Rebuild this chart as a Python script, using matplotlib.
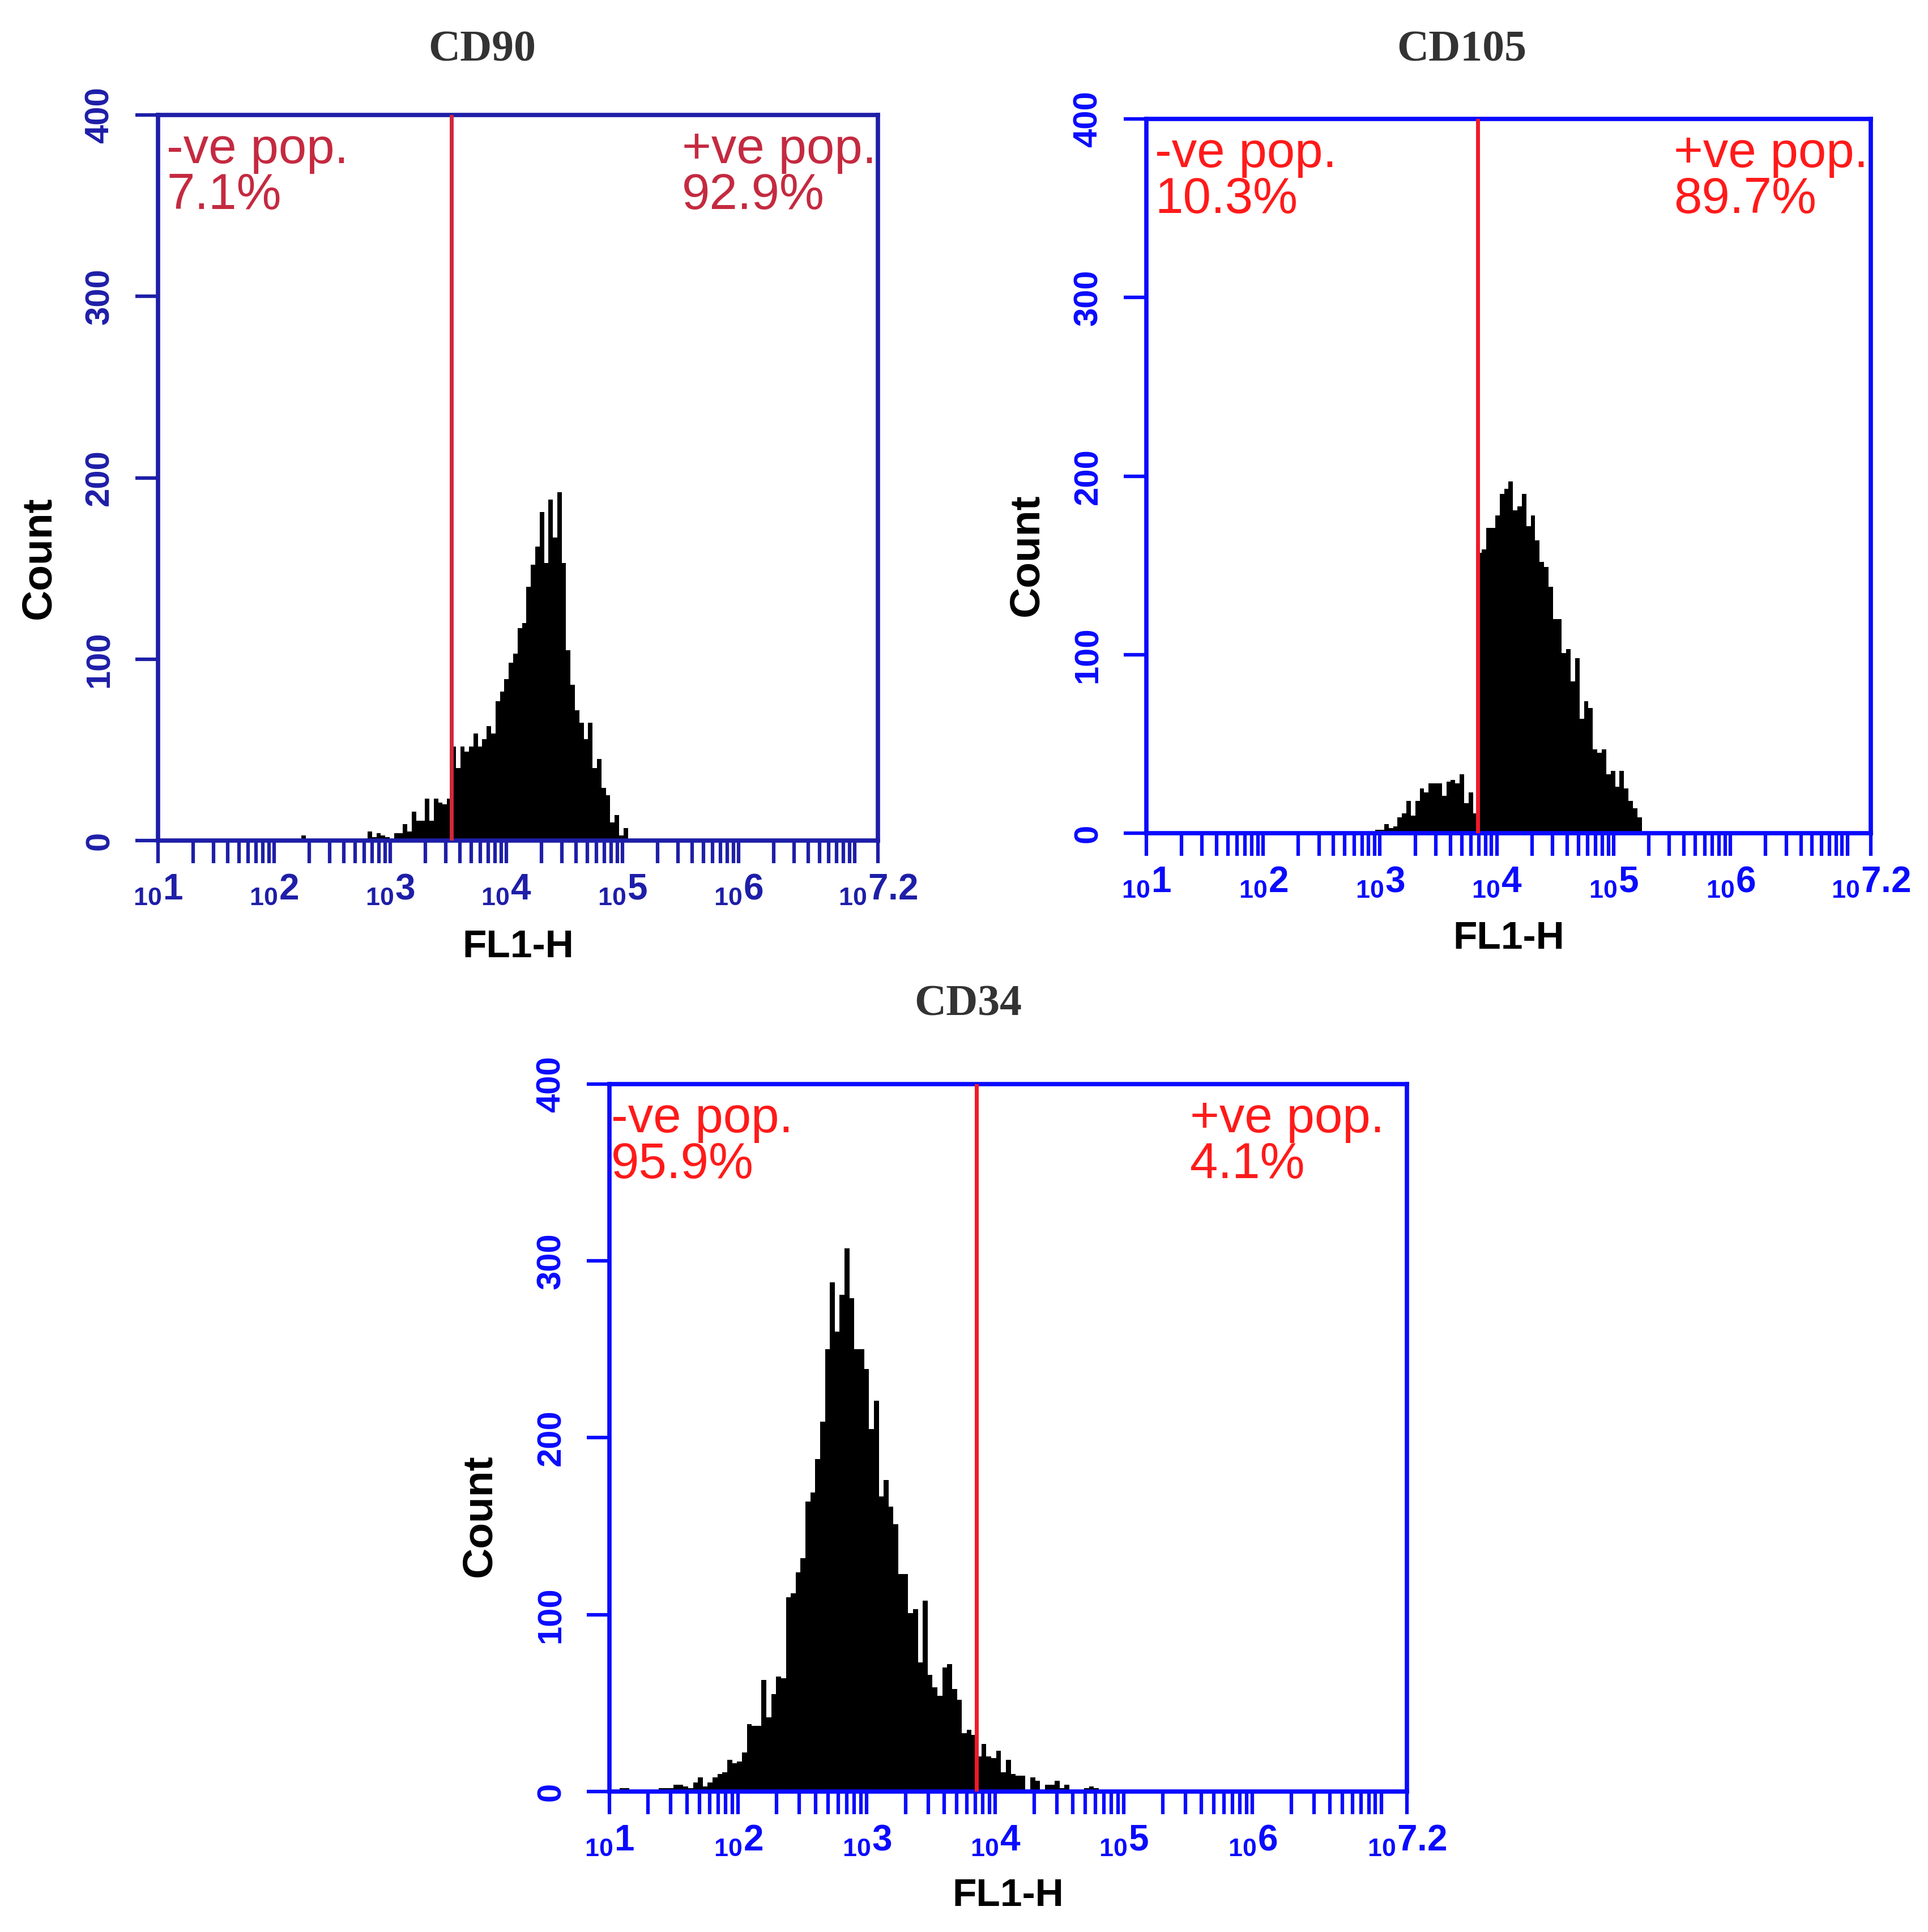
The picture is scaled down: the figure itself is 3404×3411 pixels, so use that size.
import numpy as np
import matplotlib
matplotlib.use('Agg')
import matplotlib.pyplot as plt
from matplotlib.ticker import FixedLocator, FuncFormatter, NullFormatter

plt.rcParams['font.family'] = ['Liberation Sans', 'DejaVu Sans']
plt.rcParams['mathtext.fontset'] = 'custom'
plt.rcParams['mathtext.rm'] = 'Liberation Sans:bold'
plt.rcParams['mathtext.default'] = 'rm'

# histogram channels (log10 of FL1-H), fixed channel width
bin_width = 0.038

cd90_start = 2.197
cd90_counts = [0, 3, 0, 0, 0, 0, 0, 0, 0, 0, 0, 0, 0, 0, 0, 0,
               5, 2, 4, 3, 2, 1, 4, 4, 9, 5, 16, 11, 11, 23, 11, 23, 21, 20, 23, 52,
               40, 52, 49, 52, 59, 52, 56, 63, 59, 77, 82, 89, 98, 103, 117, 120, 140, 152, 162, 181,
               153, 188, 167, 192, 153, 105, 86, 72, 65, 56, 65, 40, 45, 29, 25, 10, 14, 3, 7]
cd90_gate = 3.525

cd105_start = 2.96
cd105_counts = [2, 2, 5, 3, 4, 9, 11, 18, 10, 18, 25, 23, 28, 28, 28, 21, 29, 30, 28, 33,
                17, 23, 11, 157, 159, 171, 171, 178, 190, 193, 197, 181, 183, 190, 172, 178, 164, 152, 149, 138,
                120, 120, 101, 103, 85, 98, 64, 74, 70, 47, 45, 47, 33, 35, 26, 35, 25, 18, 14, 9]
cd105_gate = 3.834

cd34_start = 1.08
cd34_counts = [2, 2, 0, 0, 0, 1, 1, 0, 2, 2, 2, 4, 4, 3, 2, 5, 8, 3, 5, 8,
               10, 11, 18, 16, 17, 22, 38, 37, 37, 63, 42, 55, 65, 64, 110, 112, 124, 132, 164, 169,
               188, 209, 250, 288, 260, 281, 307, 279, 250, 250, 239, 205, 221, 167, 176, 161, 151, 123, 123, 101,
               103, 73, 108, 66, 59, 54, 70, 72, 58, 52, 33, 35, 32, 20, 27, 20, 19, 23, 11, 18,
               10, 9, 9, 1, 8, 6, 1, 4, 4, 6, 2, 4, 1, 0, 0, 2, 3, 2]
cd34_gate = 3.854

titles = ['CD90', 'CD105', 'CD34']
neg_labels = ['-ve pop.\n7.1%', '-ve pop.\n10.3%', '-ve pop.\n95.9%']
pos_labels = ['+ve pop.\n92.9%', '+ve pop.\n89.7%', '+ve pop.\n4.1%']
major_exp = [1, 2, 3, 4, 5, 6, 7.2]
y_ticks = [0, 100, 200, 300, 400]

fig = plt.figure(figsize=(34.05, 34.11), dpi=100)
fig.patch.set_facecolor('white')

# [left, bottom, width, height]
boxes = [[0.0819, 0.5649, 0.3733, 0.3756],
         [0.5944, 0.5687, 0.3756, 0.3697],
         [0.3160, 0.0727, 0.4135, 0.3662]]
title_pos = [(0.250, 0.974), (0.758, 0.974), (0.502, 0.480)]
blues = ['#1e1ea8', '#0a0aff', '#0a0aff']
reds = ['#c42a40', '#ff1a1a', '#ff1a1a']
gate_colors = ['#d0283c', '#f01a2a', '#f01a2a']
neg_x = [0.012, 0.012, 0.002]

data = [(cd90_start, cd90_counts, cd90_gate),
        (cd105_start, cd105_counts, cd105_gate),
        (cd34_start, cd34_counts, cd34_gate)]


def exp_label(v, pos):
    e = np.log10(v)
    s = '%g' % round(e, 1)
    return r'$_{10}%s$' % s


for i in range(3):
    start, counts, gate = data[i]
    ax = fig.add_axes(boxes[i])
    edges = 10 ** (start + bin_width * np.arange(len(counts) + 1))
    ax.stairs(counts, edges, fill=True, color='black', zorder=2)
    ax.axvline(10 ** gate, color=gate_colors[i], lw=5, zorder=3)

    ax.set_xscale('log')
    ax.set_xlim(10 ** 1, 10 ** 7.2)
    ax.set_ylim(0, 400)

    minors = [k * 10 ** n for n in range(1, 7) for k in range(2, 10)] + [1e7]
    ax.xaxis.set_major_locator(FixedLocator([10 ** e for e in major_exp]))
    ax.xaxis.set_minor_locator(FixedLocator(minors))
    ax.xaxis.set_major_formatter(FuncFormatter(exp_label))
    ax.xaxis.set_minor_formatter(NullFormatter())
    ax.tick_params(axis='x', which='both', direction='out', length=29, width=4.5,
                   color=blues[i], labelcolor=blues[i], labelsize=46, pad=12)

    ax.set_yticks(y_ticks)
    ax.set_yticklabels([str(t) for t in y_ticks], rotation=90, va='center',
                       fontweight='bold')
    ax.tick_params(axis='y', direction='out', length=29, width=4.5, color=blues[i],
                   labelcolor=blues[i], labelsize=43, pad=25)

    for sp in ax.spines.values():
        sp.set_color(blues[i])
        sp.set_linewidth(5.5)

    ax.set_xlabel('FL1-H', fontsize=50, fontweight='bold')
    ax.xaxis.set_label_coords(0.5, -0.122)
    ax.set_ylabel('Count', fontsize=54, fontweight='bold')
    ax.yaxis.set_label_coords(-0.138, 0.39)

    ax.text(neg_x[i], 0.984, neg_labels[i], transform=ax.transAxes, ha='left', va='top',
            fontsize=64, color=reds[i], linespacing=0.95)
    ax.text(0.728, 0.984, pos_labels[i], transform=ax.transAxes, ha='left', va='top',
            fontsize=64, color=reds[i], linespacing=0.95)

    fig.text(title_pos[i][0], title_pos[i][1], titles[i], ha='center', va='center',
             fontsize=56, fontweight='bold', family='Liberation Serif', color='#333333')

fig.savefig('out.png', dpi=100, facecolor='white')
